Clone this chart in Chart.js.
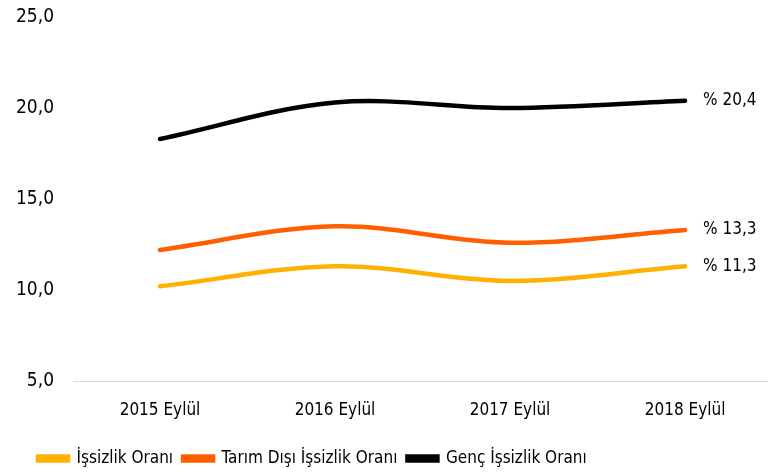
<!DOCTYPE html>
<html>
<head>
<meta charset="utf-8">
<script src="https://cdn.jsdelivr.net/npm/chart.js@4"></script>
<style>
  html, body { margin: 0; padding: 0; background: #fff; }
  #wrap { width: 768px; height: 472px; }
</style>
</head>
<body>
<div id="wrap"><canvas id="chart" width="768" height="472"></canvas></div>
<script>
const categories = ["2015 Eylül", "2016 Eylül", "2017 Eylül", "2018 Eylül"];
const issizlik = [10.2, 11.3, 10.5, 11.3];
const tarimDisi = [12.2, 13.5, 12.6, 13.3];
const genc = [18.3, 20.3, 20.0, 20.4];
const yTicks = [5, 10, 15, 20, 25];

const FONT = '"DejaVu Sans Condensed", "Liberation Sans Narrow", sans-serif';
const fmt = v => v.toFixed(1).replace(".", ",");
const toPoints = arr => arr.map((v, i) => ({ x: i, y: v }));

// "% 20,4" style labels at the end of each line
const endLabels = {
    id: "endLabels",
    afterLayout(chart) {
        // legend starts a bit in from the left edge, like the original
        const w = chart.legend.right - chart.legend.left;
        chart.legend.left = 28;
        chart.legend.right = 28 + w;
    },
    afterDatasetsDraw(chart) {
        const ctx = chart.ctx;
        ctx.save();
        ctx.font = "17px " + FONT;
        ctx.fillStyle = "#000";
        ctx.textBaseline = "middle";
        chart.data.datasets.forEach((ds, i) => {
            const pts = chart.getDatasetMeta(i).data;
            const last = pts[pts.length - 1];
            ctx.fillText("% " + fmt(ds.data[ds.data.length - 1].y), last.x + 18, last.y);
        });
        ctx.restore();
    }
};

Chart.defaults.font.family = FONT;
Chart.defaults.font.size = 17;
Chart.defaults.color = "#000";

new Chart(document.getElementById("chart"), {
    type: "line",
    data: {
        datasets: [
            { label: "İşsizlik Oranı", data: toPoints(issizlik), borderColor: "#FFB000", backgroundColor: "#FFB000" },
            { label: "Tarım Dışı İşsizlik Oranı", data: toPoints(tarimDisi), borderColor: "#FF5F00", backgroundColor: "#FF5F00" },
            { label: "Genç İşsizlik Oranı", data: toPoints(genc), borderColor: "#000000", backgroundColor: "#000000" }
        ]
    },
    options: {
        responsive: false,
        animation: false,
        layout: { padding: { left: 0, right: 0, top: 17, bottom: -5 } },
        elements: {
            line: { borderWidth: 4.5, tension: 0.35, borderCapStyle: "round", fill: false },
            point: { radius: 0 }
        },
        scales: {
            x: {
                type: "linear",
                min: -0.497,
                max: 3.474,
                grid: { display: false },
                border: { display: true, color: "#d9d9d9", width: 1 },
                afterBuildTicks: axis => { axis.ticks = categories.map((c, i) => ({ value: i })); },
                afterFit: axis => { axis.height = 59; },
                ticks: {
                    padding: 11,
                    maxRotation: 0,
                    callback: v => categories[v] || ""
                }
            },
            y: {
                min: 5,
                max: 25,
                grid: { display: false },
                border: { display: false },
                afterBuildTicks: axis => { axis.ticks = yTicks.map(v => ({ value: v })); },
                afterFit: axis => { axis.width = 73; axis.paddingTop = 0; axis.paddingBottom = 0; },
                ticks: { padding: 11, font: { size: 19 }, callback: v => fmt(v) }
            }
        },
        plugins: {
            legend: {
                position: "bottom",
                align: "start",
                labels: { boxWidth: 30, boxHeight: 4, padding: 10, font: { size: 17 } }
            },
            tooltip: { enabled: false }
        }
    },
    plugins: [endLabels]
});
</script>
</body>
</html>
